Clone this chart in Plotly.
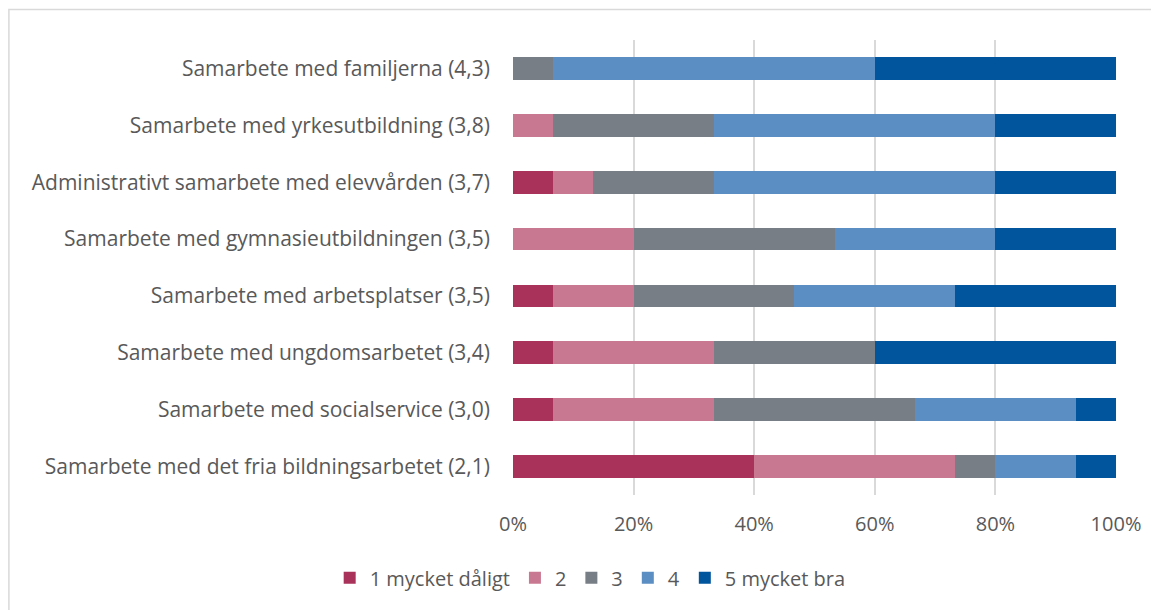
import plotly.graph_objects as go

# categories, top-to-bottom as in the reference
categories = [
    "Samarbete med familjerna (4,3)",
    "Samarbete med yrkesutbildning (3,8)",
    "Administrativt samarbete med elevvården (3,7)",
    "Samarbete med gymnasieutbildningen (3,5)",
    "Samarbete med arbetsplatser (3,5)",
    "Samarbete med ungdomsarbetet (3,4)",
    "Samarbete med socialservice (3,0)",
    "Samarbete med det fria bildningsarbetet (2,1)",
]

# share of answers (%) per rating, same order as categories
r1 = [0.0, 0.0, 6.67, 0.0, 6.67, 6.67, 6.67, 40.0]
r2 = [0.0, 6.67, 6.67, 20.0, 13.33, 26.67, 26.67, 33.33]
r3 = [6.67, 26.67, 20.0, 33.33, 26.67, 26.67, 33.33, 6.67]
r4 = [53.33, 46.67, 46.67, 26.67, 26.67, 0.0, 26.67, 13.33]
r5 = [40.0, 20.0, 20.0, 20.0, 26.67, 40.0, 6.67, 6.67]

series_names = ["1 mycket dåligt", "2", "3", "4", "5 mycket bra"]
series_values = [r1, r2, r3, r4, r5]
colors = ["#A8325A", "#C97891", "#777E86", "#5B8EC3", "#00559D"]

x_ticks = [0, 20, 40, 60, 80, 100]
x_ticklabels = ["0%", "20%", "40%", "60%", "80%", "100%"]

FONT = "Open Sans"
TXT = "#595959"

fig = go.Figure()
for name, vals, col in zip(series_names, series_values, colors):
    fig.add_trace(go.Bar(
        y=categories, x=vals, name=name, orientation="h",
        marker=dict(color=col, line=dict(width=0)),
        hovertemplate="%{y}: %{x:.1f}%<extra>" + name + "</extra>",
    ))

# page body has an 8px margin, so the figure is sized/offset to compensate
fig.update_layout(
    barmode="stack",
    bargap=0.6,
    width=1151, height=602,
    paper_bgcolor="white",
    plot_bgcolor="white",
    font=dict(family=FONT, color=TXT, size=20),
    margin=dict(l=505, r=43, t=32, b=115),
    xaxis=dict(
        range=[0, 100], tickvals=x_ticks, ticktext=x_ticklabels,
        showgrid=True, gridcolor="#D9D9D9", gridwidth=1.5,
        zeroline=False, showline=False,
        tickfont=dict(color=TXT, size=20), ticks="",
        ticklabelstandoff=15,
    ),
    yaxis=dict(
        autorange="reversed", showgrid=False, zeroline=False,
        tickfont=dict(color=TXT, size=21), ticks="",
        ticklabelstandoff=22,
    ),
    legend=dict(
        orientation="h", x=0.128, xanchor="center", xref="paper",
        y=-0.182, yanchor="middle",
        font=dict(color=TXT, size=20),
        traceorder="normal", itemwidth=30,
    ),
    shapes=[dict(
        type="rect", xref="paper", yref="paper",
        x0=-0.836, x1=1.2, y0=-0.5, y1=1.067,
        line=dict(color="#D9D9D9", width=1.5), layer="below",
    )],
)

fig.write_html("out.html")
